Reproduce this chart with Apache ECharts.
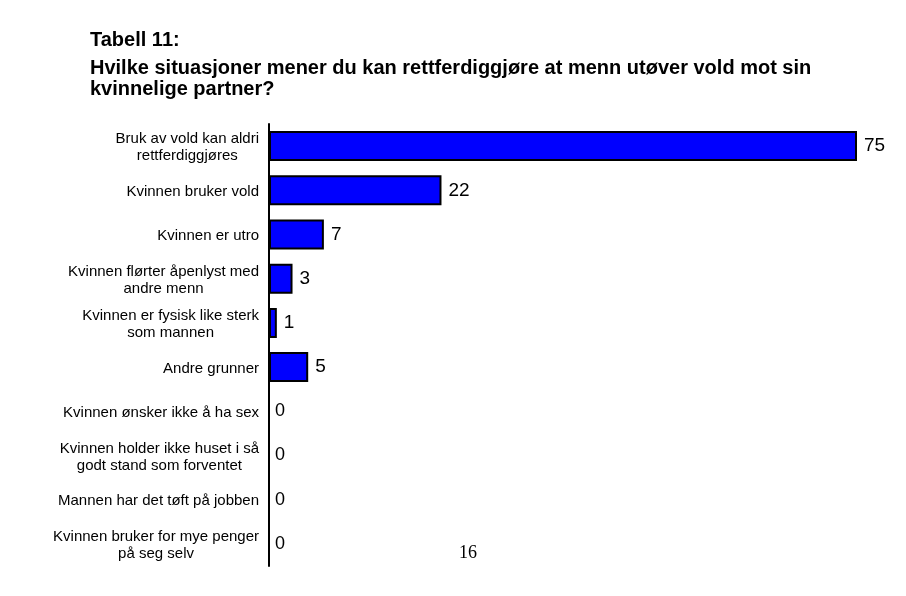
<!DOCTYPE html>
<html>
<head>
<meta charset="utf-8">
<script src="https://cdn.jsdelivr.net/npm/echarts@6/dist/echarts.min.js"></script>
<style>
  html, body { margin: 0; padding: 0; background: #fff; }
  #chart { width: 906px; height: 596px; }
</style>
</head>
<body>
<div id="chart"></div>
<script>
let categories = [
    'Bruk av vold kan aldri\nrettferdiggjøres',
    'Kvinnen bruker vold',
    'Kvinnen er utro',
    'Kvinnen flørter åpenlyst med\nandre menn',
    'Kvinnen er fysisk like sterk\nsom mannen',
    'Andre grunner',
    'Kvinnen ønsker ikke å ha sex',
    'Kvinnen holder ikke huset i så\ngodt stand som forventet',
    'Mannen har det tøft på jobben',
    'Kvinnen bruker for mye penger\npå seg selv'
]
let values = [75, 22, 7, 3, 1, 5, 0, 0, 0, 0]

let titleText = 'Tabell 11:'
let subtitleText = 'Hvilke situasjoner mener du kan rettferdiggjøre at menn utøver vold mot sin\nkvinnelige partner?'
let pageNumber = '16'

let chart = echarts.init(document.querySelector('#chart'))

// nullverdier tegnes uten kant, bare etiketten vises
let barData = values.map(v => {
    if (v !== 0) return v
    return {
        value: v,
        itemStyle: {borderWidth: 0},
        label: {fontSize: 18, distance: 6}
    }
})

chart.setOption({
    backgroundColor: '#fff',
    animation: false,
    title: {
        text: titleText,
        subtext: subtitleText,
        left: 90,
        top: 30,
        padding: 0,
        itemGap: 7,
        textStyle: {
            fontFamily: 'Liberation Sans',
            fontWeight: 'bold',
            fontSize: 20,
            lineHeight: 21,
            color: '#000'
        },
        subtextStyle: {
            fontFamily: 'Liberation Sans',
            fontWeight: 'bold',
            fontSize: 20,
            lineHeight: 21,
            color: '#000'
        }
    },
    grid: {
        left: 269,
        right: 49,
        top: 124,
        bottom: 30,
        containLabel: false
    },
    xAxis: {
        type: 'value',
        min: 0,
        max: 75,
        show: false
    },
    yAxis: {
        type: 'category',
        inverse: true,
        data: categories,
        axisLine: {lineStyle: {color: '#000', width: 2}},
        axisTick: {show: false},
        axisLabel: {
            margin: 10,
            padding: [3, 0, 0, 0],
            formatter: v => '{c|' + v + '}',
            rich: {
                c: {
                    align: 'center',
                    fontFamily: 'Liberation Sans',
                    fontSize: 15,
                    lineHeight: 17,
                    color: '#000'
                }
            }
        }
    },
    series: [{
        type: 'bar',
        data: barData,
        barWidth: 30,
        itemStyle: {
            color: '#0000ff',
            borderColor: '#000',
            borderWidth: 2
        },
        label: {
            show: true,
            position: 'right',
            distance: 7,
            fontFamily: 'Liberation Sans',
            fontSize: 19,
            color: '#000'
        }
    }],
    graphic: [{
        type: 'text',
        left: 459,
        top: 544,
        style: {
            text: pageNumber,
            fontFamily: 'Liberation Serif',
            fontSize: 18,
            fill: '#000'
        }
    }]
})
</script>
</body>
</html>
